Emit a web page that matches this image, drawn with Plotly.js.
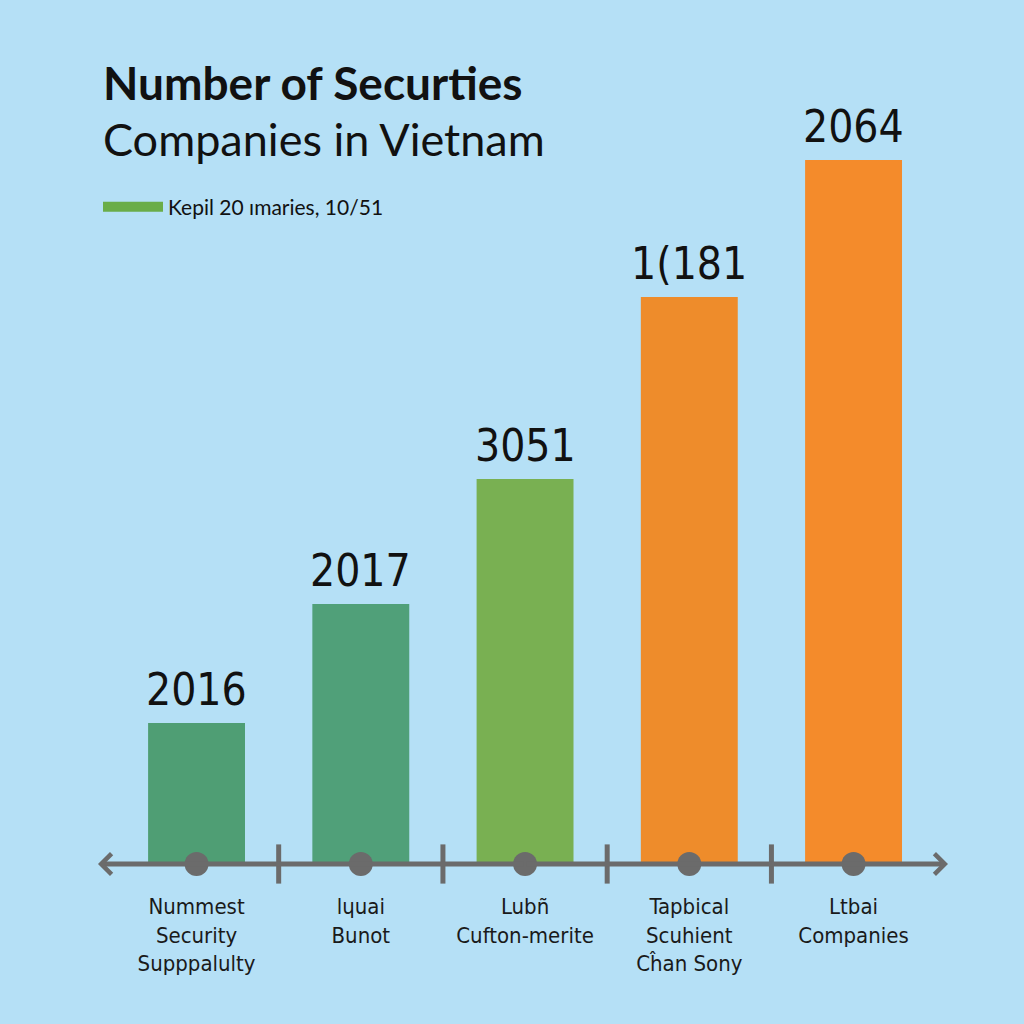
<!DOCTYPE html>
<html>
<head>
<meta charset="utf-8">
<script src="https://cdn.plot.ly/plotly-3.0.1.min.js"></script>
<style>
  body { margin: 0; background: #b5e0f6; }
  #plot { width: 1024px; height: 1024px; }
</style>
</head>
<body>
<div id="plot"></div>
<script>
// categories along the axis
var categories = [
  "Nummest<br>Security<br>Supppalulty",
  "lɥuai<br>Bunot",
  "Lubñ<br>Cufton-merite",
  "Tapbical<br>Scuhient<br>Cĥan Sony",
  "Ltbai<br>Companies"
];
// bar heights (as drawn) and the labels printed above them
var barValues = [141, 260, 385, 567, 704];
var barLabels = ["2016", "2017", "3051", "1(181", "2064"];
var barColors = ["#4f9e74", "#50a079", "#79b052", "#ee8c2b", "#f48b2b"];
var legendName = "Kepil 20 ımaries, 10/51";

var xs = categories.map(function (c, i) { return i; });
var axisGray = "#6b6b6b";

var bars = {
  x: xs,
  y: barValues,
  type: "bar",
  width: 0.59,
  marker: { color: barColors },
  showlegend: false,
  hoverinfo: "skip"
};

// dots on the axis under each bar
var dots = {
  x: xs,
  y: xs.map(function () { return 0; }),
  mode: "markers",
  type: "scatter",
  cliponaxis: false,
  marker: { color: axisGray, size: 24, symbol: "circle" },
  showlegend: false,
  hoverinfo: "skip"
};

// small separators between categories
var seps = {
  x: xs.slice(1).map(function (i) { return i - 0.5; }),
  y: xs.slice(1).map(function () { return 0; }),
  mode: "markers",
  type: "scatter",
  cliponaxis: false,
  marker: { symbol: "line-ns", size: 28, line: { color: axisGray, width: 5 } },
  showlegend: false,
  hoverinfo: "skip"
};

// legend-only entry
var legendTrace = {
  x: [null],
  y: [null],
  mode: "lines",
  type: "scatter",
  name: legendName,
  line: { color: "#6aad48", width: 11 }
};

var annotations = barValues.map(function (v, i) {
  return {
    x: i, y: v, xref: "x", yref: "y",
    text: barLabels[i],
    showarrow: false,
    yanchor: "bottom",
    yshift: 6,
    font: { family: "DejaVu Sans Condensed, Liberation Sans", size: 44, color: "#111" }
  };
});

// axis line with arrow heads on both ends
annotations.push({
  x: 4.575, y: 0, ax: 2, ay: 0, xref: "x", yref: "y", axref: "x", ayref: "y",
  text: "", showarrow: true, arrowhead: 4, arrowsize: 0.8, arrowwidth: 5, arrowcolor: axisGray
});
annotations.push({
  x: -0.6, y: 0, ax: 2, ay: 0, xref: "x", yref: "y", axref: "x", ayref: "y",
  text: "", showarrow: true, arrowhead: 4, arrowsize: 0.8, arrowwidth: 5, arrowcolor: axisGray
});

// title lines
annotations.push({
  xref: "paper", yref: "paper", x: 0.004, y: 1.026, xanchor: "left", yanchor: "middle",
  text: "<b>Number of Securties</b>", showarrow: false,
  font: { family: "Lato", size: 46, color: "#111" }
});
annotations.push({
  xref: "paper", yref: "paper", x: 0.004, y: 0.952, xanchor: "left", yanchor: "middle",
  text: "Companies in Vietnam", showarrow: false,
  font: { family: "Lato", size: 45, color: "#111" }
});

var layout = {
  width: 1024,
  height: 1024,
  paper_bgcolor: "#b5e0f6",
  plot_bgcolor: "#b5e0f6",
  margin: { l: 98, r: 76, t: 102, b: 160 },
  showlegend: true,
  legend: {
    x: 0.0, y: 0.862, xanchor: "left", yanchor: "middle",
    bgcolor: "rgba(0,0,0,0)",
    itemwidth: 60,
    font: { family: "Lato", size: 21, color: "#111" }
  },
  xaxis: {
    range: [-0.6, 4.575],
    tickvals: xs,
    ticktext: categories,
    showgrid: false,
    zeroline: false,
    showline: false,
    ticks: "",
    ticklabelstandoff: 27,
    tickfont: { family: "DejaVu Sans Condensed, Liberation Sans", size: 22, color: "#1a1a1a" },
    fixedrange: true
  },
  yaxis: {
    range: [0, 762],
    visible: false,
    fixedrange: true
  },
  annotations: annotations
};

Plotly.newPlot("plot", [bars, dots, seps, legendTrace], layout, { displayModeBar: false, staticPlot: true });
</script>
</body>
</html>
